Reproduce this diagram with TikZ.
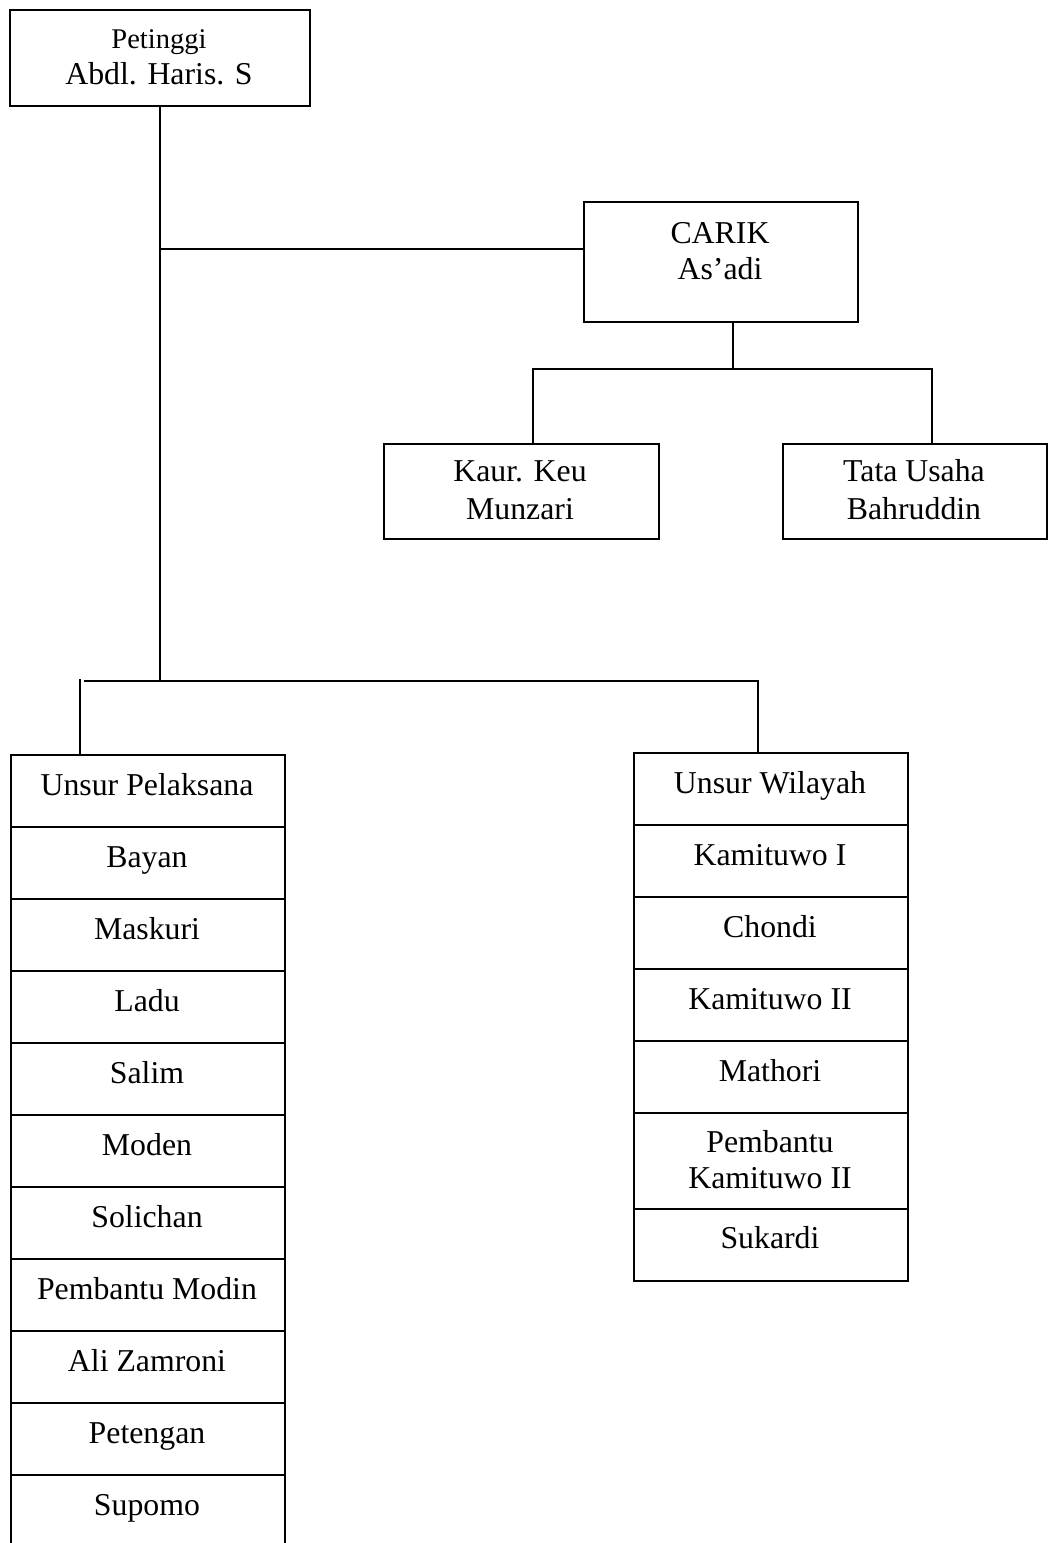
\documentclass[tikz,border=0pt]{standalone}
\usepackage{fontspec}
\setmainfont{Liberation Serif}
\begin{document}
\begin{tikzpicture}[x=1pt,y=-1pt,line width=1.7pt,
  box/.style={draw,rectangle,inner sep=0pt,anchor=north west},
  lbl/.style={anchor=base,inner sep=0pt,font=\fontsize{31.8}{36}\selectfont},
  lsmall/.style={anchor=base,inner sep=0pt,font=\fontsize{28.5}{34}\selectfont},
  conn/.style={draw,line width=1.7pt}]
\useasboundingbox (0,0) rectangle (1049,1543);

% top box
\node[box,minimum width=300pt,minimum height=96pt] (top) at (9,9) {};
\node[lsmall] (topa) at (159,48) {Petinggi};
\node[lbl] (topb) at (159,84) {Abdl. Haris. S};

% CARIK
\node[box,minimum width=274pt,minimum height=120pt] (carik) at (583,201) {};
\node[lbl] (carika) at (720,243) {CARIK};
\node[lbl] (carikb) at (720,279) {As’adi};

% Kaur & Tata Usaha
\node[box,minimum width=275pt,minimum height=95pt] (kaur) at (383,443) {};
\node[lbl] (kaura) at (520,481) {Kaur. Keu};
\node[lbl] (kaurb) at (520,519) {Munzari};
\node[box,minimum width=264pt,minimum height=95pt] (tata) at (782,443) {};
\node[lbl] (tataa) at (914,481) {Tata Usaha};
\node[lbl] (tatab) at (914,519) {Bahruddin};

% left column
\foreach \t [count=\i from 0] in {Unsur Pelaksana,Bayan,Maskuri,Ladu,Salim,Moden,Solichan,Pembantu Modin,Ali Zamroni,Petengan,Supomo}{
  \node[box,minimum width=274pt,minimum height=72pt] (L\i) at (10,754+72*\i) {};
  \node[lbl] (Lt\i) at (147,795+72*\i) {\t};
}

% right column
\foreach \t [count=\i from 0] in {Unsur Wilayah,Kamituwo I,Chondi,Kamituwo II,Mathori}{
  \node[box,minimum width=274pt,minimum height=72pt] (R\i) at (633,752+72*\i) {};
  \node[lbl] (Rt\i) at (770,793+72*\i) {\t};
}
\node[box,minimum width=274pt,minimum height=96pt] (R5) at (633,1112) {};
\node[lbl] (Rt5a) at (770,1152) {Pembantu};
\node[lbl] (Rt5b) at (770,1188) {Kamituwo II};
\node[box,minimum width=274pt,minimum height=72pt] (R6) at (633,1208) {};
\node[lbl] (Rt6) at (770,1248) {Sukardi};

% connectors
\coordinate (j1) at (160,249);
\coordinate (j2) at (160,681);
\coordinate (tb) at (160,105);
\draw[conn] (tb) -- (j2);
\draw[conn] (j1) -- (carik.west |- j1);

\coordinate (cb) at (733,321);
\coordinate (cj) at (733,369);
\coordinate (kj) at (533,369);
\coordinate (tj) at (932,369);
\coordinate (kt) at (533,443);
\coordinate (tt) at (932,443);
\draw[conn] (cb) -- (cj);
\draw[conn] (kt) -- (kj) -- (tj) -- (tt);

\coordinate (hl) at (84,681);
\coordinate (hr) at (758,681);
\coordinate (vl) at (80,679);
\coordinate (vlb) at (80,754);
\coordinate (vrb) at (758,752);
\draw[conn] (hl) -- (hr) -- (vrb);
\draw[conn] (vl) -- (vlb);
\end{tikzpicture}
\end{document}
